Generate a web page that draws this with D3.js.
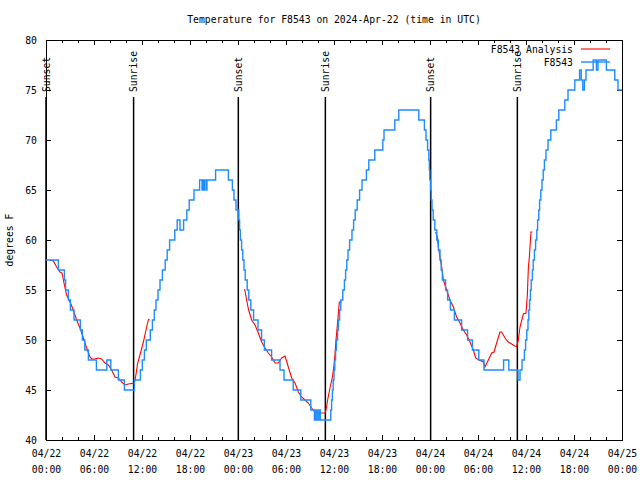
<!DOCTYPE html>
<html><head><meta charset="utf-8">
<script src="https://cdn.jsdelivr.net/npm/d3@7"></script>
<style>
body{margin:0;background:#fff}
svg text{font-family:"DejaVu Sans Mono","Liberation Mono",monospace;font-size:9.75px;fill:#000}
</style>
</head><body>
<svg id="chart" width="640" height="480"></svg>
<script>
// ---------- data ----------
const titleText = "Temperature for F8543 on 2024-Apr-22 (time in UTC)";
const yAxisLabel = "degrees F";
const seriesNames = ["F8543 Analysis", "F8543"];
const seriesColors = ["#ff0000", "#1e8cff"];
const startDayUTC = [2024, 3, 22];           // 2024-04-22 00:00 UTC
const xMajorHours = [0, 6, 12, 18, 24, 30, 36, 42, 48, 54, 60, 66, 72];
const xMinorHours = d3.range(0, 73, 2);
const yTickValues = [40, 45, 50, 55, 60, 65, 70, 75, 80];
const sunLabels = ["Sunset", "Sunrise", "Sunset", "Sunrise", "Sunset", "Sunrise"];
const sunHours = [0.0, 10.95, 24.04, 34.92, 48.08, 58.92];

// observed F8543 (hours since start, temperature F) - value holds from that hour on
const obsHours = [0,1.55,2.3,2.45,2.8,3.05,3.5,4.3,4.55,4.85,5.3,6.3,7.6,8.1,9.05,9.8,11.05,11.8,12.04,12.3,12.54,13.04,13.3,13.54,13.75,14.0,14.25,14.55,14.9,15.15,15.45,16.1,16.4,16.75,17.2,17.6,17.9,18.5,19.2,19.5,19.58,19.75,19.83,20.04,20.12,21.2,22.8,23.3,23.5,23.75,
 24.1,24.2,24.3,24.45,24.6,24.75,24.9,25.15,25.35,25.6,25.95,26.5,26.95,27.3,28.2,29.25,29.75,30.9,31.85,33.1,33.55,33.72,33.78,33.97,34.03,34.22,34.28,35.6,35.7,35.8,35.9,36.0,36.1,36.2,36.3,36.45,36.55,36.7,36.85,37.1,37.3,37.45,37.6,37.75,37.95,38.25,38.45,38.65,38.9,39.2,39.5,40.05,40.35,41.1,42.1,42.25,43.6,44.1,46.6,47.3,47.5,47.7,47.85,47.92,47.98,
 48.08,48.15,48.25,48.4,48.6,48.85,49.05,49.25,49.4,49.55,49.95,50.2,50.55,51.05,51.95,52.7,53.3,54.1,54.75,57.2,57.85,59.0,59.25,59.5,59.8,59.95,60.1,60.25,60.35,60.45,60.55,60.65,60.8,60.9,61.05,61.2,61.35,61.45,61.6,61.7,61.85,62.0,62.15,62.3,62.5,62.75,63.1,63.8,64.1,64.85,65.25,66.1,66.7,66.9,67.1,67.3,67.5,68.4,68.8,69.0,70.05,71.1,71.5,72];
const obsTemps = [58,57,56,55,54,53,52,51,50,49,48,47,48,47,46,45,46,47,48,49,50,51,52,53,54,55,56,57,58,59,60,61,62,61,62,63,64,65,66,65,66,65,66,65,66,67,66,65,64,63,
 62,61,60,59,58,57,56,55,54,53,52,51,50,49,48,47,46,45,44,43,42,43,42,43,42,43,42,43,44,45,46,47,48,49,50,51,52,53,54,55,56,57,58,59,60,61,62,63,64,65,66,67,68,69,70,71,72,73,72,71,70,69,68,67,66,
 65,64,63,62,61,60,59,58,57,56,55,54,53,52,51,50,49,48,47,48,47,46,47,48,49,50,51,52,53,54,55,56,57,58,59,60,61,62,63,64,65,66,67,68,69,70,71,72,73,74,75,76,77,76,75,76,77,78,77,78,77,76,75,75];

// analysis (hours since start, temperature F), one run per day
const analysisDay1 = [[0.5,58],[0.92,57.9],[1.33,57.3],[1.75,56.8],[2.0,56.7],[2.25,55.7],[2.58,54.5],[3.0,53.8],[3.42,53],[3.83,52],[4.25,51.2],[4.67,50.2],[5.08,49.2],[5.5,48.3],[5.75,48.1],[6.125,48.1],[6.54,48.2],[6.96,48.1],[7.375,47.7],[7.79,47.5],[8.2,47],[8.625,46.3],[9.04,46.2],[9.46,45.8],[9.875,45.5],[10.3,45.6],[11.04,45.7],[11.2,46.3],[11.46,47.7],[11.75,48.5],[12.17,49.8],[12.5,51],[12.79,52],[12.92,52.1]];
const analysisDay2 = [[24.83,55.1],[25.08,54],[25.33,53],[25.71,52],[26.13,51.5],[26.54,50.7],[26.96,49.8],[27.38,49.2],[27.79,48.7],[28.21,48.3],[28.63,47.7],[29.04,47.7],[29.46,48.2],[29.88,48.4],[30.29,47.3],[30.71,46.2],[31.13,45.7],[31.54,44.8],[31.96,44.3],[32.38,44],[32.79,43.7],[33.21,43.2],[33.63,42.8],[34.04,42.7],[34.9,42.7],[35.0,43],[35.25,44.2],[35.5,45.2],[35.8,46.3],[36.0,47.5],[36.125,48.6],[36.25,50],[36.42,51.5],[36.54,52.6],[36.67,53.8],[36.96,53.8]];
const analysisDay3 = [[48.71,60.8],[48.92,60.3],[49.04,59.3],[49.25,58.3],[49.46,57.3],[49.67,56],[49.875,55.5],[50.08,55],[50.5,54],[50.92,53.3],[51.33,52.3],[51.75,51.7],[52.17,51],[52.58,50.5],[53.0,49.8],[53.42,49],[53.71,48.2],[54.125,48],[54.67,47.8],[54.875,47.3],[55.29,48],[55.71,48.7],[56.0,48.8],[56.33,49.7],[56.75,50.8],[56.96,50.8],[57.375,50.2],[57.79,49.8],[58.2,49.6],[58.83,49.3],[59.04,50],[59.25,51.3],[59.67,52.6],[60.0,52.7],[60.17,54.5],[60.3,57.3],[60.42,58.3],[60.62,60.8],[60.8,60.8]];

// ---------- drawing ----------
const t0 = Date.UTC(...startDayUTC);
const toDate = h => new Date(t0 + h * 3600000);
const L = 46, R = 622, T = 40, B = 440;
const svg = d3.select("#chart");
const x = d3.scaleUtc().domain([toDate(0), toDate(72)]).range([L, R]);
const y = d3.scaleLinear().domain([40, 80]).range([B, T]);

// title
svg.append("text").attr("x", (L + R) / 2).attr("y", 23).attr("text-anchor", "middle").text(titleText);
// y label
svg.append("text").attr("transform", `translate(13,${(T + B) / 2}) rotate(-90)`).attr("text-anchor", "middle").text(yAxisLabel);

const fmtDay = d3.utcFormat("%m/%d"), fmtTime = d3.utcFormat("%H:%M");

// bottom axis
const gb = svg.append("g").attr("transform", `translate(0,${B})`)
  .call(d3.axisBottom(x).tickValues(xMajorHours.map(toDate)).tickSize(-5).tickFormat(""));
gb.selectAll(".tick text").remove();
gb.selectAll(".tick").each(function(d) {
  const t = d3.select(this).append("text").attr("text-anchor", "middle");
  t.append("tspan").attr("x", 0).attr("y", 16.5).text(fmtDay(d));
  t.append("tspan").attr("x", 0).attr("y", 33).text(fmtTime(d));
});
svg.append("g").attr("transform", `translate(0,${B})`)
  .call(d3.axisBottom(x).tickValues(xMinorHours.map(toDate)).tickSize(-3).tickFormat(""));
// top axis
svg.append("g").attr("transform", `translate(0,${T})`)
  .call(d3.axisTop(x).tickValues(xMajorHours.map(toDate)).tickSize(-5).tickFormat(""));
svg.append("g").attr("transform", `translate(0,${T})`)
  .call(d3.axisTop(x).tickValues(xMinorHours.map(toDate)).tickSize(-3).tickFormat(""));
// left axis
svg.append("g").attr("transform", `translate(${L},0)`)
  .call(d3.axisLeft(y).tickValues(yTickValues).tickSize(-5).tickPadding(9).tickFormat(d3.format("d")));
// right axis
svg.append("g").attr("transform", `translate(${R},0)`)
  .call(d3.axisRight(y).tickValues(yTickValues).tickSize(-5).tickFormat(""));

svg.selectAll(".domain").remove();
svg.selectAll(".tick line").attr("stroke", "#000").attr("stroke-width", 1).attr("shape-rendering", "crispEdges");
svg.selectAll("g").attr("font-family", null).attr("font-size", null);

// frame
svg.append("rect").attr("x", L).attr("y", T).attr("width", R - L).attr("height", B - T)
  .attr("fill", "none").attr("stroke", "#000").attr("stroke-width", 1).attr("shape-rendering", "crispEdges");

// sunrise/sunset markers
sunHours.forEach((h, i) => {
  const sx = x(toDate(h));
  svg.append("line").attr("x1", sx).attr("x2", sx).attr("y1", 97).attr("y2", B)
    .attr("stroke", "#000").attr("stroke-width", 1.5);
  svg.append("text").attr("transform", `translate(${sx + 3.5},92) rotate(-90)`).text(sunLabels[i]);
});

// analysis (red)
const lineA = d3.line().x(d => x(toDate(d[0]))).y(d => y(d[1]));
[analysisDay1, analysisDay2, analysisDay3].forEach(run => {
  svg.append("path").attr("d", lineA(run)).attr("fill", "none")
    .attr("stroke", seriesColors[0]).attr("stroke-width", 1.1);
});

// observations (blue)
const obs = obsHours.map((h, i) => [h, obsTemps[i]]);
const lineO = d3.line().curve(d3.curveStepAfter).x(d => x(toDate(d[0]))).y(d => y(d[1]));
svg.append("path").attr("d", lineO(obs)).attr("fill", "none")
  .attr("stroke", seriesColors[1]).attr("stroke-width", 1.4);

// legend
seriesNames.forEach((name, i) => {
  const ly = 49 + i * 13;
  svg.append("text").attr("x", 573).attr("y", ly + 3.5).attr("text-anchor", "end").text(name);
  svg.append("line").attr("x1", 581).attr("x2", 610).attr("y1", ly).attr("y2", ly)
    .attr("stroke", seriesColors[i]).attr("stroke-width", i ? 1.4 : 1.1);
});
</script>
</body></html>
